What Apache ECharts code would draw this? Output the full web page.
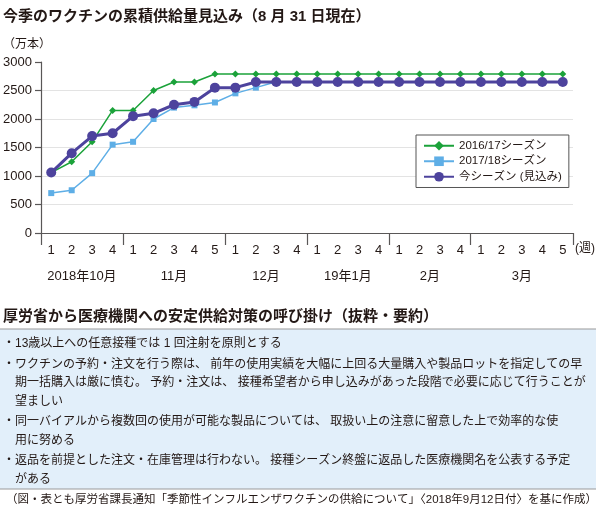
<!DOCTYPE html>
<html>
<head>
<meta charset="utf-8">
<style>
  html, body { margin: 0; padding: 0; background: #fff; }
  #chart { width: 599px; height: 516px; }
</style>
<script src="https://cdn.jsdelivr.net/npm/echarts@6/dist/echarts.min.js"></script>
</head>
<body>
<div id="chart"></div>
<script>
// data
var weeks = ['1', '2', '3', '4', '1', '2', '3', '4', '5', '1', '2', '3', '4',
  '1', '2', '3', '4', '1', '2', '3', '4', '1', '2', '3', '4', '5'];
var months = ['2018年10月', '11月', '12月', '19年1月', '2月', '3月'];
var monthWeeks = [4, 5, 4, 4, 4, 5];
var season1617 = [1060, 1250, 1600, 2150, 2150, 2500, 2650, 2650, 2790, 2790, 2790, 2790, 2790,
  2790, 2790, 2790, 2790, 2790, 2790, 2790, 2790, 2790, 2790, 2790, 2790, 2790];
var season1718 = [700, 750, 1050, 1550, 1600, 2000, 2200, 2240, 2290, 2450, 2550, 2655, 2655,
  2655, 2655, 2655, 2655, 2655, 2655, 2655, 2655, 2655, 2655, 2655, 2655, 2655];
var currentSeason = [1060, 1400, 1700, 1750, 2050, 2100, 2250, 2300, 2550, 2550, 2650, 2650, 2650,
  2650, 2650, 2650, 2650, 2650, 2650, 2650, 2650, 2650, 2650, 2650, 2650, 2650];
var seriesNames = ['2016/17シーズン', '2017/18シーズン', '今シーズン (見込み)'];
var notes = [
  ['・13歳以上への任意接種では 1 回注射を原則とする'],
  ['・ワクチンの予約・注文を行う際は、 前年の使用実績を大幅に上回る大量購入や製品ロットを指定しての早',
   '期一括購入は厳に慎む。 予約・注文は、 接種希望者から申し込みがあった段階で必要に応じて行うことが',
   '望ましい'],
  ['・同一バイアルから複数回の使用が可能な製品については、 取扱い上の注意に留意した上で効率的な使',
   '用に努める'],
  ['・返品を前提とした注文・在庫管理は行わない。 接種シーズン終盤に返品した医療機関名を公表する予定',
   'がある']
];

var FONT = '"Liberation Sans", "Noto Sans CJK JP", sans-serif';
var INK = '#231815';
var AXIS = '#595757';

// month boundaries (week index) and centres in week units
var monthEdges = [0];
var monthCentres = [];
monthWeeks.forEach(function (n, i) {
  monthCentres.push(monthEdges[i] + n / 2);
  monthEdges.push(monthEdges[i] + n);
});

var myChart = echarts.init(document.getElementById('chart'), null, { renderer: 'canvas' });

// note box texts
var noteGraphics = [];
var lineY = 343;
notes.forEach(function (item) {
  item.forEach(function (line, j) {
    noteGraphics.push({
      type: 'text',
      left: j === 0 ? 3 : 15,
      top: lineY - 5,
      style: { text: line, font: '12px ' + FONT, fill: INK }
    });
    lineY += 18.7;
  });
  lineY += 1.5;
});

var option = {
  textStyle: { fontFamily: FONT },
  animation: false,
  grid: { left: 41, right: 26, top: 62, bottom: 283 },
  legend: {
    data: seriesNames,
    orient: 'vertical',
    left: 416,
    top: 135,
    padding: [5, 7, 5, 7],
    itemWidth: 30,
    itemHeight: 12,
    itemGap: 4,
    borderColor: '#555',
    borderWidth: 1,
    borderRadius: 0,
    backgroundColor: '#fff',
    textStyle: { fontSize: 11.5, color: INK, fontFamily: FONT }
  },
  xAxis: [
    {
      type: 'category',
      data: weeks,
      boundaryGap: true,
      axisLine: { lineStyle: { color: AXIS, width: 1.2 } },
      axisTick: { interval: 0, length: 5, lineStyle: { color: AXIS, width: 1.2 } },
      axisLabel: { interval: 0, margin: 11, fontSize: 13, color: INK }
    },
    {
      // longer ticks at month boundaries
      type: 'category',
      data: weeks,
      boundaryGap: true,
      position: 'bottom',
      axisLine: { show: false },
      axisTick: {
        show: true,
        length: 12,
        interval: function (index) { return monthEdges.indexOf(index) >= 0; },
        lineStyle: { color: AXIS, width: 1.2 }
      },
      axisLabel: { show: false }
    },
    {
      // month labels
      type: 'value',
      min: 0,
      max: weeks.length,
      position: 'bottom',
      axisLine: { show: false },
      splitLine: { show: false },
      axisTick: { show: false },
      axisLabel: {
        customValues: monthCentres,
        margin: 37,
        fontSize: 13,
        color: INK,
        formatter: function (v) {
          var i = monthCentres.indexOf(v);
          return i >= 0 ? months[i] : '';
        }
      }
    }
  ],
  yAxis: {
    type: 'value',
    min: 0,
    max: 3000,
    interval: 500,
    axisLine: { show: true, lineStyle: { color: AXIS, width: 1.2 } },
    axisTick: { show: true, length: 6, lineStyle: { color: AXIS, width: 1.2 } },
    axisLabel: {
      margin: 9, fontSize: 13, color: INK,
      formatter: function (v) { return String(v); }
    },
    splitLine: { show: true, showMaxLine: false, lineStyle: { color: '#e3e3e3', width: 1 } }
  },
  series: [
    {
      name: seriesNames[0],
      type: 'line',
      data: season1617,
      symbol: 'diamond',
      symbolSize: 7,
      color: '#1ba23a',
      lineStyle: { width: 1.5 }
    },
    {
      name: seriesNames[1],
      type: 'line',
      data: season1718,
      symbol: 'rect',
      symbolSize: 6,
      color: '#5eaee6',
      lineStyle: { width: 1.5 }
    },
    {
      name: seriesNames[2],
      type: 'line',
      data: currentSeason,
      symbol: 'circle',
      symbolSize: 10,
      color: '#4d439d',
      lineStyle: { width: 3 }
    }
  ],
  graphic: [
    {
      type: 'text', left: 3, top: 9,
      style: { text: '今季のワクチンの累積供給量見込み（8 月 31 日現在）', font: 'bold 15px ' + FONT, fill: INK }
    },
    {
      type: 'text', left: 3, top: 39,
      style: { text: '（万本）', font: '12px ' + FONT, fill: INK }
    },
    {
      type: 'text', left: 575, top: 243,
      style: { text: '(週)', font: '12px ' + FONT, fill: INK }
    },
    {
      type: 'text', left: 3, top: 309,
      style: { text: '厚労省から医療機関への安定供給対策の呼び掛け（抜粋・要約）', font: 'bold 15px ' + FONT, fill: INK }
    },
    {
      type: 'rect', left: 0, top: 329, z: -10,
      shape: { width: 596, height: 160 },
      style: { fill: '#e2effa' }
    },
    {
      type: 'line', z: -5,
      shape: { x1: 0, y1: 329, x2: 596, y2: 329 },
      style: { stroke: '#9a9a9a', lineWidth: 1.2 }
    },
    {
      type: 'line', z: -5,
      shape: { x1: 0, y1: 489, x2: 596, y2: 489 },
      style: { stroke: '#9a9a9a', lineWidth: 1.2 }
    },
    {
      type: 'text', right: 2, top: 494,
      style: {
        text: '（図・表とも厚労省課長通知「季節性インフルエンザワクチンの供給について」〈2018年9月12日付〉を基に作成）',
        font: '11.5px ' + FONT, fill: INK
      }
    }
  ].concat(noteGraphics)
};

if (option && typeof option === 'object') {
  myChart.setOption(option);
}

window.addEventListener('resize', myChart.resize);
</script>
</body>
</html>
